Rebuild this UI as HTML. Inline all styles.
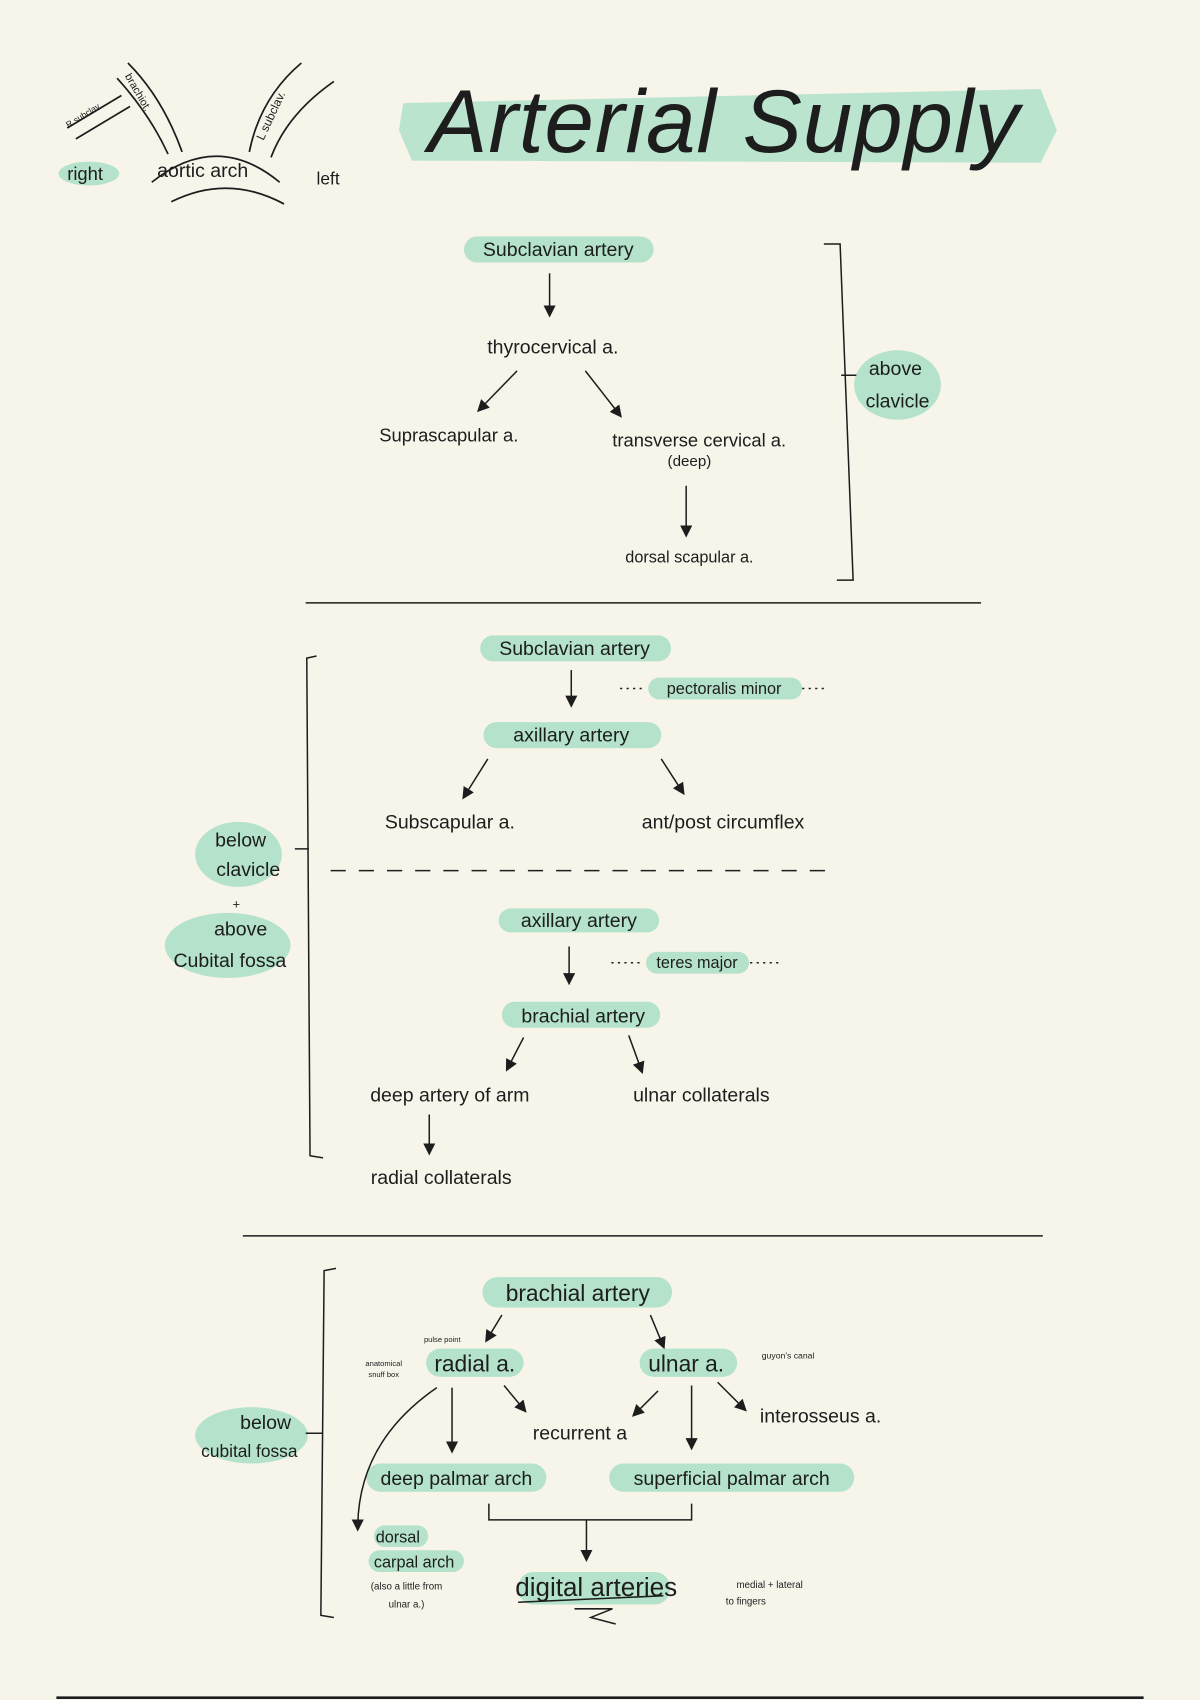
<!DOCTYPE html>
<html><head><meta charset="utf-8"><style>
html,body{margin:0;padding:0;background:#f7f5ea;}
svg{display:block;}
text{font-family:"Liberation Sans",sans-serif;fill:#1d1d1d;}
</style></head><body>
<svg width="1200" height="1700" viewBox="0 0 1107 1568" xmlns="http://www.w3.org/2000/svg">
<rect width="1107" height="1568" fill="#f7f5ea"/>
<g fill="#b4e2cb" stroke="none">
<!-- title highlight -->
<path d="M372,95 L960,82 L975,120 L960,150 L380,148 L368,120 Z" opacity="0.9"/>
<ellipse cx="82" cy="160" rx="28" ry="11"/>
<rect x="428" y="218" width="175" height="24" rx="12"/>
<ellipse cx="828" cy="355" rx="40" ry="32"/>
<rect x="443" y="586" width="176" height="24" rx="12"/>
<rect x="598" y="625" width="142" height="20" rx="10"/>
<rect x="446" y="666" width="164" height="24" rx="12"/>
<ellipse cx="220" cy="788" rx="40" ry="30"/>
<ellipse cx="210" cy="872" rx="58" ry="30"/>
<rect x="460" y="838" width="148" height="22" rx="11"/>
<rect x="596" y="878" width="95" height="20" rx="10"/>
<rect x="463" y="924" width="146" height="24" rx="12"/>
<rect x="445" y="1178" width="175" height="28" rx="14"/>
<rect x="393" y="1244" width="90" height="26" rx="13"/>
<rect x="590" y="1244" width="90" height="26" rx="13"/>
<ellipse cx="232" cy="1324" rx="52" ry="26"/>
<rect x="338" y="1350" width="166" height="26" rx="13"/>
<rect x="562" y="1350" width="226" height="26" rx="13"/>
<rect x="345" y="1407" width="50" height="20" rx="10"/>
<rect x="340" y="1430" width="88" height="20" rx="10"/>
<rect x="478" y="1450" width="140" height="30" rx="14"/>
</g>
<!-- aortic arch sketch -->
<g fill="none" stroke="#1d1d1d" stroke-width="1.6">
<path d="M140,168 Q200,120 258,168"/>
<path d="M158,186 Q210,160 262,188"/>
<path d="M118,58 Q150,90 168,140"/>
<path d="M108,72 Q138,105 155,142"/>
<path d="M62,118 L112,88"/>
<path d="M70,128 L120,98"/>
<path d="M278,58 Q240,90 230,140"/>
<path d="M308,75 Q265,105 250,145"/>
</g>
<text x="63" y="118" font-size="8" transform="rotate(-32 63 118)">R subclav</text>
<text x="115" y="70" font-size="10" transform="rotate(60 115 70)">brachiot.</text>
<text x="243" y="130" font-size="11" transform="rotate(-65 243 130)">L subclav.</text>
<text x="62" y="166" font-size="17">right</text>
<text x="145" y="163" font-size="18">aortic arch</text>
<text x="292" y="170" font-size="16">left</text>
<text x="395" y="140" font-size="82" font-style="italic" textLength="545" style="font-weight:300">Arterial Supply</text>
<!-- lines/arrows -->
<defs><marker id="a" markerWidth="8" markerHeight="8" refX="6" refY="4" orient="auto"><path d="M0,0 L8,4 L0,8 Z" fill="#1d1d1d"/></marker></defs>
<g fill="none" stroke="#1d1d1d" stroke-width="1.4" marker-end="url(#a)">
<path d="M507,252 L507,290"/>
<path d="M477,342 L442,378"/>
<path d="M540,342 L572,383"/>
<path d="M633,448 L633,493"/>
<path d="M527,618 L527,650"/>
<path d="M450,700 L428,735"/>
<path d="M610,700 L630,731"/>
<path d="M525,873 L525,906"/>
<path d="M483,957 L468,986"/>
<path d="M580,955 L592,988"/>
<path d="M396,1028 L396,1063"/>
<path d="M463,1213 L449,1236"/>
<path d="M600,1213 L612,1242"/>
<path d="M403,1280 Q330,1330 330,1410"/>
<path d="M417,1280 L417,1338"/>
<path d="M465,1278 L484,1301"/>
<path d="M607,1283 L585,1305"/>
<path d="M638,1278 L638,1335"/>
<path d="M662,1275 L687,1300"/>
<path d="M541,1402 L541,1438"/>
</g>
<g fill="none" stroke="#1d1d1d" stroke-width="1.4">
<path d="M760,225 L775,225 L787,535 L772,535 M776,346 L790,346"/>
<path d="M282,556 L905,556"/>
<path d="M292,605 L283,607 L286,1066 L298,1068 M272,783 L285,783"/>
<path d="M305,803 L770,803" stroke-dasharray="14,12"/>
<path d="M224,1140 L962,1140"/>
<path d="M310,1170 L299,1172 L296,1490 L308,1492 M282,1322 L297,1322"/>
<path d="M451,1387 L451,1402 L638,1402 L638,1387"/>
<path d="M478,1478 L612,1472 M530,1484 L565,1484 L545,1492 L568,1498"/>
<path d="M572,635 L596,635 M740,635 L762,635 M564,888 L594,888 M692,888 L720,888" stroke-dasharray="2,4"/>
</g>
<path d="M52,1566 L1055,1566" stroke="#1d1d1d" stroke-width="2.5"/>
<g font-size="18" text-anchor="middle">
<text x="515" y="236">Subclavian artery</text>
<text x="510" y="326">thyrocervical a.</text>
<text x="414" y="407" font-size="17">Suprascapular a.</text>
<text x="645" y="412" font-size="17">transverse cervical a.</text>
<text x="636" y="430" font-size="14">(deep)</text>
<text x="636" y="519" font-size="15">dorsal scapular a.</text>
<text x="826" y="346">above</text>
<text x="828" y="376">clavicle</text>
<text x="530" y="604">Subclavian artery</text>
<text x="668" y="640" font-size="15">pectoralis minor</text>
<text x="527" y="684">axillary artery</text>
<text x="415" y="764">Subscapular a.</text>
<text x="667" y="764">ant/post circumflex</text>
<text x="222" y="781">below</text>
<text x="229" y="808">clavicle</text>
<text x="218" y="838" font-size="12">+</text>
<text x="222" y="863">above</text>
<text x="212" y="892">Cubital fossa</text>
<text x="534" y="855">axillary artery</text>
<text x="643" y="893" font-size="15">teres major</text>
<text x="538" y="943">brachial artery</text>
<text x="415" y="1016">deep artery of arm</text>
<text x="647" y="1016">ulnar collaterals</text>
<text x="407" y="1092">radial collaterals</text>
<text x="533" y="1200" font-size="21">brachial artery</text>
<text x="408" y="1238" font-size="7">pulse point</text>
<text x="354" y="1260" font-size="7">anatomical</text>
<text x="354" y="1270" font-size="7">snuff box</text>
<text x="438" y="1265" font-size="21">radial a.</text>
<text x="633" y="1265" font-size="21">ulnar a.</text>
<text x="727" y="1253" font-size="8">guyon's canal</text>
<text x="535" y="1328">recurrent a</text>
<text x="757" y="1312">interosseus a.</text>
<text x="421" y="1370">deep palmar arch</text>
<text x="675" y="1370">superficial palmar arch</text>
<text x="245" y="1318">below</text>
<text x="230" y="1344" font-size="16">cubital fossa</text>
<text x="367" y="1423" font-size="15">dorsal</text>
<text x="382" y="1446" font-size="15">carpal arch</text>
<text x="375" y="1466" font-size="9">(also a little from</text>
<text x="375" y="1483" font-size="9">ulnar a.)</text>
<text x="550" y="1472" font-size="24">digital arteries</text>
<text x="710" y="1465" font-size="9">medial + lateral</text>
<text x="688" y="1480" font-size="9">to fingers</text>
</g>
</svg>
</body></html>
